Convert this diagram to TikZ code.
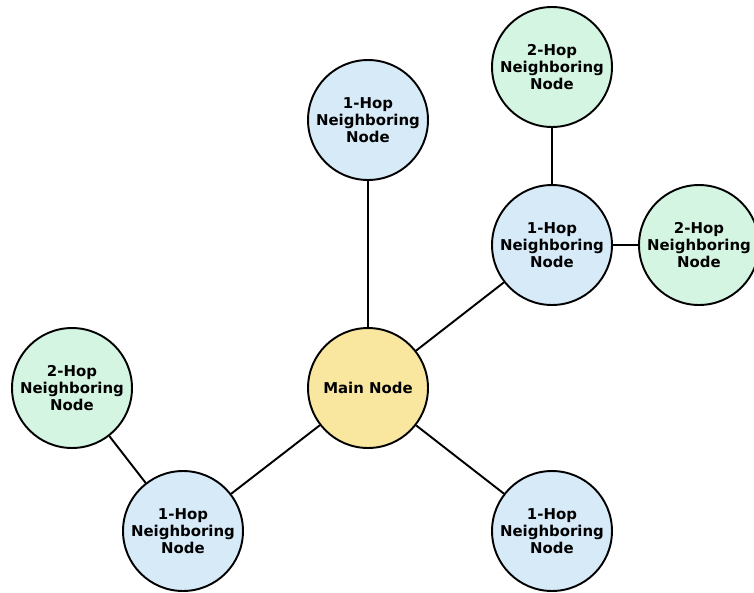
\documentclass[tikz,border=0pt]{standalone}
\usepackage{fontspec}
\setmainfont{DejaVu Sans}
\begin{document}
\begin{tikzpicture}[
  x=0.02cm, y=-0.02cm,
  hub/.style={circle, draw=black, line width=1.1pt, fill=mainyellow,
    minimum size=2.4cm, inner sep=0pt, align=center,
    font=\fontsize{8.5}{9.7}\selectfont\bfseries},
  onehop/.style={hub, fill=hopblue},
  twohop/.style={hub, fill=hopgreen},
  link/.style={line width=1.1pt},
]
\definecolor{mainyellow}{HTML}{F9E79F}
\definecolor{hopblue}{HTML}{D6EAF8}
\definecolor{hopgreen}{HTML}{D5F5E3}
\useasboundingbox (0,0) rectangle (754,592);

\node[hub] (main) at (368, 388) {Main Node};

\node[onehop] (top) at (368, 120) {1-Hop\\Neighboring\\Node};
\node[onehop] (upright) at (552, 245) {1-Hop\\Neighboring\\Node};
\node[onehop] (lowright) at (552, 531) {1-Hop\\Neighboring\\Node};
\node[onehop] (lowleft) at (183, 531) {1-Hop\\Neighboring\\Node};

\node[twohop] (uptop) at (552, 67) {2-Hop\\Neighboring\\Node};
\node[twohop] (farright) at (699, 245) {2-Hop\\Neighboring\\Node};
\node[twohop] (farleft) at (72, 388) {2-Hop\\Neighboring\\Node};

\draw[link] (main) -- (top);
\draw[link] (main) -- (upright);
\draw[link] (main) -- (lowright);
\draw[link] (main) -- (lowleft);
\draw[link] (upright) -- (uptop);
\draw[link] (upright) -- (farright);
\draw[link] (lowleft) -- (farleft);

\end{tikzpicture}
\end{document}
